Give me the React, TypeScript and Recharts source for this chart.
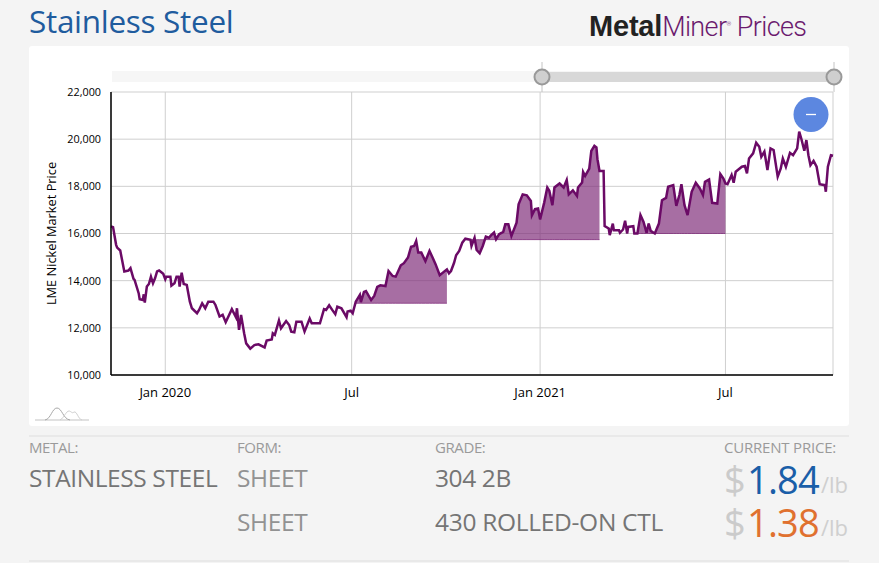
import React from 'react'
import { Area, CartesianGrid, ComposedChart, Line, XAxis, YAxis } from 'recharts'

// days counted from 1 Jan 2020
const days = [
  -53, -51, -48, -47, -44, -40, -36, -34, -31, -30, -26, -25, -22, -21, -20, -18, -16, -14, -12, -10, -8, -6, -2, 0, 1, 5,
  6, 9, 11, 13, 14, 16, 18, 21, 24, 26, 31, 33, 36, 39, 42, 47, 49, 53, 56, 59, 65, 69, 70, 72, 74, 77, 79, 83, 87, 91, 97,
  99, 104, 105, 107, 111, 113, 118, 121, 123, 126, 128, 133, 136, 141, 143, 151, 155, 157, 160, 163, 166, 168, 172, 177,
  178, 181, 183, 186, 190, 191, 194, 196, 201, 204, 207, 210, 215, 218, 222, 225, 230, 233, 237, 240, 243, 245, 247, 250,
  254, 258, 261, 264, 268, 275, 277, 279, 282, 284, 287, 290, 293, 298, 299, 302, 304, 307, 310, 313, 316, 318, 321, 323,
  326, 330, 332, 335, 338, 343, 345, 349, 353, 357, 358, 361, 364, 366, 370, 373, 375, 378, 380, 385, 389, 392, 394, 398,
  402, 403, 407, 408, 410, 414, 416, 419, 421, 422, 424, 428, 429, 433, 434, 437, 438, 443, 444, 447, 449, 451, 452, 457,
  458, 461, 464, 467, 470, 472, 474, 478, 482, 485, 489, 491, 496, 499, 502, 504, 507, 510, 514, 518, 522, 525, 527, 531,
  534, 539, 542, 545, 547, 549, 553, 555, 557, 563, 566, 568, 570, 574, 577, 580, 582, 585, 588, 591, 594, 598, 601, 603,
  606, 610, 613, 617, 619, 621, 624, 626, 628, 630, 633, 636, 639, 644, 645, 647, 650, 652,
]

const prices = [
  16300, 16270, 15520, 15400, 15280, 14390, 14430, 14530, 14080, 14030, 13470, 13210, 13180, 13420, 13070, 13750, 13860,
  14170, 13890, 14100, 14390, 14430, 14290, 14060, 14170, 14170, 13790, 13890, 14170, 14170, 13750, 14340, 13860, 13820,
  13110, 12830, 12620, 12760, 13040, 12830, 13110, 13110, 12970, 12480, 12550, 12240, 12790, 12450, 12830, 11910, 12550,
  11770, 11340, 11120, 11270, 11300, 11170, 11460, 11510, 11770, 11700, 12310, 11980, 12290, 12120, 11840, 11810, 12260,
  12260, 11840, 12390, 12190, 12190, 12790, 12760, 12960, 12760, 12580, 12900, 12830, 12450, 12690, 12730, 12620, 13110,
  13400, 13090, 13520, 13560, 13180, 13350, 13740, 13800, 13770, 14410, 14200, 14170, 14650, 14740, 14980, 15440, 15470,
  15680, 15190, 15190, 14830, 15260, 14980, 14690, 14230, 14480, 14310, 14410, 14760, 15080, 15260, 15610, 15780, 15730,
  15470, 15820, 15300, 15160, 15470, 15870, 15820, 15920, 16040, 15760, 15970, 16070, 16390, 16390, 15900, 16460, 17240,
  17660, 17620, 17380, 16770, 17030, 17060, 16600, 17310, 17950, 17810, 17200, 17950, 18120, 17950, 18270, 17660, 17830,
  17590, 17950, 18160, 18610, 18440, 18750, 19500, 19720, 19650, 19150, 18650, 18650, 16320, 16210, 15930, 16420, 16140,
  16140, 16030, 16170, 16540, 16000, 16280, 16310, 16000, 16000, 16780, 16490, 16030, 16420, 16110, 16000, 16420, 17410,
  17510, 17980, 18050, 17170, 17630, 18090, 17200, 16780, 17770, 18150, 17910, 17630, 18190, 18290, 17300, 17270, 18520,
  18330, 18120, 18090, 18480, 18150, 18620, 18830, 18860, 18550, 19180, 19400, 19850, 19680, 19250, 19470, 18690, 19610,
  19540, 18410, 18760, 19180, 18830, 19420, 19320, 19610, 20320, 20030, 19510, 19960, 19320, 18900, 19080, 18830, 18090,
  18050, 17770, 18830, 19320, 19300,
]

// shaded stretches: first day, last day, flat lower edge
const shadeStarts = [186, 293, 458]
const shadeEnds = [275, 424, 547]
const shadeBases = [13040, 15740, 16000]

const yTicks = [10000, 12000, 14000, 16000, 18000, 20000, 22000]
const xTicks = [0, 182, 366, 547]
const xTickLabels = ['Jan 2020', 'Jul', 'Jan 2021', 'Jul']

const chartData = days.map((day, i) => {
  const w = shadeStarts.findIndex((s, k) => day >= s && day <= shadeEnds[k])
  return { day, price: prices[i], shade: w >= 0 ? [shadeBases[w], prices[i]] : null }
})

const FONT = '"Open Sans", sans-serif'

const Txt = ({ x, y, size, color, children, weight, spacing, font }: any) => (
  <div
    style={{
      position: 'absolute',
      left: x,
      top: y - size * 0.5,
      height: size,
      lineHeight: `${size}px`,
      fontSize: size,
      color,
      fontWeight: weight ?? 400,
      letterSpacing: spacing ?? 0,
      fontFamily: font ?? FONT,
      whiteSpace: 'nowrap',
    }}
  >
    {children}
  </div>
)

const Price = ({ y, value, color }: any) => (
  <>
    <Txt x={724} y={y} size={38} color="#cbcbcb" weight={500} spacing={-1}>$</Txt>
    <Txt x={747} y={y} size={38} color={color} weight={500} spacing={-0.8}>{value}</Txt>
    <Txt x={821} y={y + 5} size={22} color="#cfcfcf">/lb</Txt>
  </>
)

const App = () => {
  return (
    <div style={{ position: 'absolute', left: 0, top: 0, width: 879, height: 563, overflow: 'hidden', background: '#f4f4f4' }}>
      <Txt x={29} y={21} size={31.5} color="#1f5c9e" spacing={-0.3}>Stainless Steel</Txt>
      <Txt x={589} y={23} size={29} color="#222" weight={700} spacing={-0.2} font='"Liberation Sans", sans-serif'>
        Metal
        <span style={{ color: '#6b1a6e', fontWeight: 300, fontFamily: 'Roboto, sans-serif', fontSize: 27, letterSpacing: -0.6 }}>
          Miner<sup style={{ fontSize: 6 }}>®</sup> Prices
        </span>
      </Txt>

      <div style={{ position: 'absolute', left: 29, top: 46, width: 820, height: 380, background: '#fff', borderRadius: 3 }} />

      <div style={{ position: 'absolute', left: 0, top: 0 }}>
        <ComposedChart width={879} height={563} data={chartData} margin={{ top: 92, right: 46, bottom: 0, left: 0 }}>
          <CartesianGrid stroke="#cfcfcf" strokeWidth={1} />
          <XAxis
            dataKey="day"
            type="number"
            domain={[-53, 652]}
            ticks={xTicks}
            height={188}
            tickLine={false}
            tickMargin={7}
            axisLine={{ stroke: '#000', strokeWidth: 1.5 }}
            tick={{ fill: '#000', fontSize: 13, fontFamily: FONT }}
            tickFormatter={(d: number) => xTickLabels[xTicks.indexOf(d)]}
          />
          <YAxis
            domain={[10000, 22000]}
            ticks={yTicks}
            width={111}
            tickLine={false}
            tickMargin={4}
            allowDataOverflow
            axisLine={{ stroke: '#000', strokeWidth: 1.5 }}
            tick={{ fill: '#000', fontSize: 10.8, fontFamily: FONT }}
            tickFormatter={(v: number) => v.toLocaleString('en-US')}
            label={{
              value: 'LME Nickel Market Price',
              angle: -90,
              position: 'insideLeft',
              offset: 51,
              style: { textAnchor: 'middle', fill: '#000', fontSize: 12.8, fontFamily: FONT },
            }}
          />
          <Area dataKey="shade" stroke="#6b0a66" strokeWidth={0.6} fill="#7d2a78" fillOpacity={0.68} isAnimationActive={false} />
          <Line dataKey="price" type="linear" stroke="#6b0a66" strokeWidth={2.5} dot={false} isAnimationActive={false} />
        </ComposedChart>
      </div>

      {/* range slider, zoom button and mini icon sit over the chart */}
      <svg width={879} height={563} style={{ position: 'absolute', left: 0, top: 0 }}>
        <rect x={112} y={71} width={721} height={11} fill="#f6f6f6" />
        <rect x={542} y={72} width={292} height={10} fill="#d8d8d8" />
        <line x1={542} y1={62} x2={542} y2={92} stroke="#c4c4c4" />
        <line x1={834} y1={62} x2={834} y2={92} stroke="#c4c4c4" />
        <circle cx={542} cy={77} r={7.5} fill="#cfcfcf" stroke="#999" strokeWidth={2} />
        <circle cx={834} cy={77} r={7.5} fill="#cfcfcf" stroke="#999" strokeWidth={2} />
        <circle cx={811} cy={114.5} r={17.5} fill="#5c87e0" />
        <line x1={806} y1={114.5} x2={816} y2={114.5} stroke="#fff" strokeWidth={1.3} />
        <line x1={35} y1={420} x2={89} y2={420} stroke="#c4c4c4" strokeWidth={1.2} />
        <path d="M45 420 C51 419 52 408 57 408 C62 408 63 419 70 420" fill="none" stroke="#a8a8a8" />
        <path d="M60 420 C64 418 66 411 69 411 C71 411 72 414 74 412 C77 411 78 419 82 420" fill="none" stroke="#cfcfcf" />
        <line x1={29} y1={436} x2={849} y2={436} stroke="#dedede" />
        <line x1={29} y1={561} x2={849} y2={561} stroke="#dedede" />
      </svg>

      <Txt x={29} y={447} size={15} color="#9a9a9a" spacing={-0.4}>METAL:</Txt>
      <Txt x={237} y={447} size={15} color="#9a9a9a" spacing={-0.4}>FORM:</Txt>
      <Txt x={435} y={447} size={15} color="#9a9a9a" spacing={-0.4}>GRADE:</Txt>
      <Txt x={724} y={447} size={15} color="#9a9a9a" spacing={-0.2}>CURRENT PRICE:</Txt>

      <Txt x={29} y={478} size={24.5} color="#757575" weight={500} spacing={-0.4}>STAINLESS STEEL</Txt>
      <Txt x={237} y={478} size={24.5} color="#929292" weight={500} spacing={-0.4}>SHEET</Txt>
      <Txt x={435} y={478} size={24.5} color="#757575" weight={500} spacing={-0.4}>304 2B</Txt>
      <Price y={479} value="1.84" color="#1a5ea8" />

      <Txt x={237} y={522} size={24.5} color="#929292" weight={500} spacing={-0.4}>SHEET</Txt>
      <Txt x={435} y={522} size={24.5} color="#757575" weight={500} spacing={-0.3}>430 ROLLED-ON CTL</Txt>
      <Price y={522} value="1.38" color="#e0712f" />
    </div>
  )
}

export default App
